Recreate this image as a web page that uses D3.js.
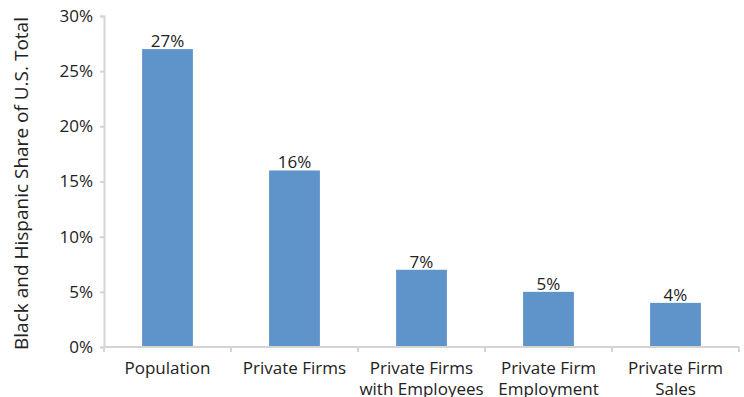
<!DOCTYPE html>
<html>
<head>
<meta charset="utf-8">
<script src="https://cdn.jsdelivr.net/npm/d3@7"></script>
<style>
  body { margin: 0; background: #fff; }
  text { font-family: "Open Sans", sans-serif; fill: #222; }
</style>
</head>
<body>
<div id="chart"></div>
<script>
const categories = [
  ["Population"],
  ["Private Firms"],
  ["Private Firms", "with Employees"],
  ["Private Firm", "Employment"],
  ["Private Firm", "Sales"]
];
const values = [27, 16, 7, 5, 4];
const yTicks = [0, 5, 10, 15, 20, 25, 30];

const width = 744, height = 397;
const margin = { top: 16, right: 5, bottom: 50, left: 104 };

const svg = d3.select('#chart').append('svg')
  .attr('width', width)
  .attr('height', height);

const x = d3.scaleBand()
  .domain(d3.range(categories.length))
  .range([margin.left, width - margin.right])
  .paddingInner(0.6)
  .paddingOuter(0.3);

const y = d3.scaleLinear()
  .domain([0, 30])
  .range([height - margin.bottom, margin.top]);

// bars
svg.selectAll('rect.bar')
  .data(values)
  .enter().append('rect')
  .attr('class', 'bar')
  .attr('x', (d, i) => x(i))
  .attr('y', d => y(d))
  .attr('width', x.bandwidth())
  .attr('height', d => y(0) - y(d))
  .attr('fill', '#5e94c9');

// value labels
svg.selectAll('text.val')
  .data(values)
  .enter().append('text')
  .attr('class', 'val')
  .attr('x', (d, i) => x(i) + x.bandwidth() / 2)
  .attr('y', d => y(d) - 2)
  .attr('text-anchor', 'middle')
  .style('font-size', '17px')
  .text(d => d + '%');

// y axis
const yAxis = svg.append('g')
  .attr('transform', `translate(${margin.left},0)`)
  .call(d3.axisLeft(y).tickValues(yTicks).tickSize(4).tickFormat(d => d + '%'));
yAxis.select('.domain').attr('stroke', '#d4d4d4').attr('stroke-width', 2);
yAxis.selectAll('.tick line').attr('stroke', '#d4d4d4').attr('stroke-width', 2);
yAxis.selectAll('.tick text').style('font-size', '17px').attr('x', -11).attr('fill', '#222');

// x axis
const band = (width - margin.right - margin.left) / categories.length;
const xLine = svg.append('g');
xLine.append('line')
  .attr('x1', margin.left).attr('x2', width - margin.right)
  .attr('y1', y(0)).attr('y2', y(0))
  .attr('stroke', '#d4d4d4').attr('stroke-width', 2);
xLine.selectAll('line.tk')
  .data(d3.range(categories.length + 1))
  .enter().append('line')
  .attr('class', 'tk')
  .attr('x1', i => margin.left + i * band)
  .attr('x2', i => margin.left + i * band)
  .attr('y1', y(0)).attr('y2', y(0) + 5)
  .attr('stroke', '#d4d4d4').attr('stroke-width', 2);

// category labels
const cat = svg.selectAll('text.cat')
  .data(categories)
  .enter().append('text')
  .attr('class', 'cat')
  .attr('text-anchor', 'middle')
  .style('font-size', '17px');
cat.selectAll('tspan')
  .data((d, i) => d.map(line => ({ line, i })))
  .enter().append('tspan')
  .attr('x', d => x(d.i) + x.bandwidth() / 2)
  .attr('y', (d, j) => y(0) + 27 + j * 21)
  .text(d => d.line);

// y title
svg.append('text')
  .attr('transform', `translate(28,${(margin.top + y(0)) / 2 + 2}) rotate(-90)`)
  .attr('text-anchor', 'middle')
  .style('font-size', '19px')
  .text('Black and Hispanic Share of U.S. Total');
</script>
</body>
</html>
